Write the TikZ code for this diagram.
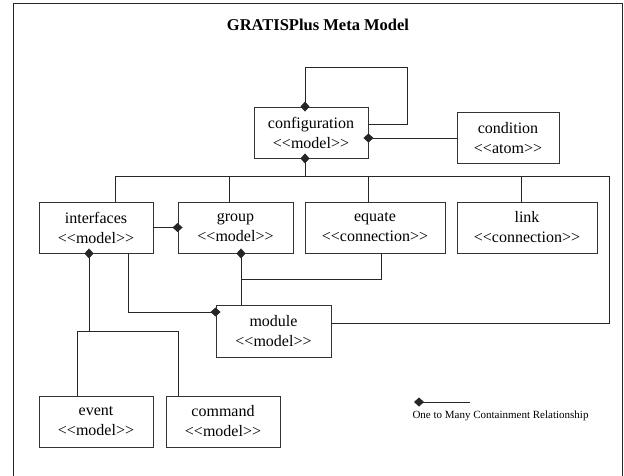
\documentclass[tikz,border=0pt]{standalone}
\usepackage{fontspec}
\setmainfont{Liberation Serif}
\usetikzlibrary{arrows.meta}

\tikzset{
  cls/.style={draw=black!80,line width=0.9pt,fill=white,align=center,inner sep=0pt,
    minimum height=51pt,font=\fontsize{16}{20}\selectfont},
  has/.style={{Diamond[length=10pt,width=9pt]}-,shorten <=-5pt},
}

\begin{document}
\begin{tikzpicture}[line join=miter,x=1pt,y=-1pt,draw=black!85,line width=0.8pt]
		\useasboundingbox (0,0) rectangle (624,475);
		\draw (13,476) -- (13,3) -- (622,3) -- (622,476);
		\node (title) at (318,25) {\fontsize{16.5}{20}\selectfont\bfseries GRATISPlus Meta Model};
		% classes
		\node[cls,minimum width=114pt] (conf) at (311,132.5) {configuration\\<{}<model>{}>};
		\node[cls,minimum width=102pt] (cond) at (508,138) {condition\\<{}<atom>{}>};
		\node[cls,minimum width=114pt] (intf) at (96,227.5) {interfaces\\<{}<model>{}>};
		\node[cls,minimum width=115pt] (grp) at (235.5,227.5) {group\\<{}<model>{}>};
		\node[cls,minimum width=140pt] (equ) at (375,227.5) {equate\\<{}<connection>{}>};
		\node[cls,minimum width=140pt] (lnk) at (527,227.5) {link\\<{}<connection>{}>};
		\node[cls,minimum width=115pt,minimum height=52pt] (mod) at (273.5,331) {module\\<{}<model>{}>};
		\node[cls,minimum width=114pt] (evt) at (96,421.5) {event\\<{}<model>{}>};
		\node[cls,minimum width=114pt] (cmd) at (223,421.5) {command\\<{}<model>{}>};
		\coordinate (busL) at (115,176);
		\coordinate (busR) at (609,176);
		\coordinate (ebus) at (89,331);
		% containment
		\draw[has] ([xshift=-6pt]conf.north) |- (407,67) |- ([yshift=8.5pt]conf.east);
		\draw[has] ([yshift=-5.5pt]conf.east) -- (cond.west);
		\draw[has] ([xshift=-6pt]conf.south) |- (busL);
		\draw ([xshift=19pt]intf.north) |- (busR) |- ([yshift=8pt]mod.east);
		\draw ([xshift=-6.5pt]grp.north) |- (busL);
		\draw ([xshift=-7pt]equ.north) |- (busL);
		\draw ([xshift=-6pt]lnk.north) |- (busL);
		\draw[has] (grp.west) -- (intf.east);
		\draw[has] ([xshift=5.5pt]grp.south) -- ([xshift=-32.5pt]mod.north);
		\draw ([xshift=6pt]equ.south) -- ++(0,26) -| ([xshift=5.5pt]grp.south);
		\draw[has] ([yshift=19pt]mod.west) -| ([xshift=32pt]intf.south);
		\draw[has] ([xshift=-7pt]intf.south) -- (ebus);
		\draw ([xshift=-19pt]evt.north) |- (ebus);
		\draw ([xshift=-45pt]cmd.north) |- (ebus);
		% legend
		\coordinate (lgA) at (419,402);
		\coordinate (lgB) at (470,402);
		\draw[has] (lgA) -- (lgB);
		\node (lgtext) at (500.5,416) {\fontsize{11}{13}\selectfont One to Many Containment Relationship};
\end{tikzpicture}
\end{document}
